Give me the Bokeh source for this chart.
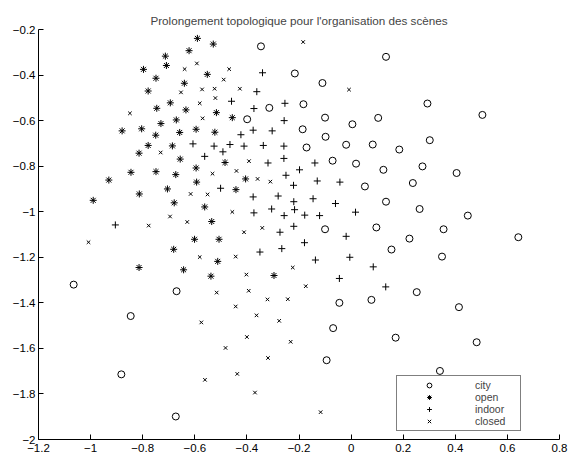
from bokeh.plotting import figure
from bokeh.models import FixedTicker, Legend, LegendItem, Range1d
from bokeh.embed import file_html
from bokeh.resources import INLINE

title_text = "Prolongement topologique pour l'organisation des scènes"
x_ticks = [-1.2, -1.0, -0.8, -0.6, -0.4, -0.2, 0.0, 0.2, 0.4, 0.6, 0.8]
x_tick_labels = ["−1.2", "−1", "−0.8", "−0.6", "−0.4", "−0.2", "0", "0.2", "0.4", "0.6", "0.8"]
y_ticks = [-2.0, -1.8, -1.6, -1.4, -1.2, -1.0, -0.8, -0.6, -0.4, -0.2]
y_tick_labels = ["−2", "−1.8", "−1.6", "−1.4", "−1.2", "−1", "−0.8", "−0.6", "−0.4", "−0.2"]

categories = ["city", "open", "indoor", "closed"]

city_x = [-0.346, -0.216, -0.110, -0.183, -0.314, -0.399, -0.100, 0.005, 0.104, -0.186,
          -0.098, -0.171, -0.019, 0.083, -0.071, 0.019, 0.053, -0.100, 0.097,
          0.134, 0.293, 0.504, 0.302, 0.185, 0.124, 0.274, 0.405, 0.237, 0.134,
          0.263, 0.448, 0.355,
          -1.065, -0.670, -0.846, -0.882, -0.673,
          -0.045, 0.078, -0.069, -0.094,
          0.224, 0.642, 0.155, 0.349, 0.252, 0.414, 0.171, 0.482, 0.341]
city_y = [-0.274, -0.393, -0.435, -0.528, -0.544, -0.594, -0.587, -0.616, -0.588, -0.638,
          -0.671, -0.718, -0.706, -0.705, -0.776, -0.789, -0.889, -1.077, -1.069,
          -0.320, -0.525, -0.575, -0.686, -0.727, -0.816, -0.801, -0.830, -0.874, -0.956,
          -0.988, -1.017, -1.077,
          -1.320, -1.349, -1.458, -1.714, -1.899,
          -1.400, -1.387, -1.511, -1.652,
          -1.118, -1.112, -1.166, -1.197, -1.353, -1.419, -1.553, -1.573, -1.699]

open_x = [-0.590, -0.622, -0.713, -0.709, -0.797, -0.749, -0.779, -0.640, -0.694, -0.746,
          -0.634, -0.671, -0.730, -0.595, -0.804, -0.879, -0.750, -0.658, -0.779, -0.686,
          -0.814, -0.656, -0.595, -0.845, -0.749, -0.673, -0.593, -0.930, -0.813, -0.705,
          -0.679, -0.990,
          -0.529, -0.552, -0.517, -0.456, -0.523, -0.484, -0.405, -0.442, -0.562, -0.535,
          -0.681, -0.814, -0.643,
          -0.601, -0.507, -0.512, -0.538, -0.296]
open_y = [-0.239, -0.293, -0.317, -0.358, -0.375, -0.414, -0.470, -0.436, -0.522, -0.546,
          -0.553, -0.597, -0.613, -0.638, -0.636, -0.645, -0.664, -0.652, -0.709, -0.711,
          -0.743, -0.769, -0.808, -0.827, -0.824, -0.837, -0.870, -0.861, -0.922, -0.900,
          -0.961, -0.950,
          -0.264, -0.397, -0.565, -0.587, -0.651, -0.784, -0.856, -0.903, -0.979, -1.043,
          -1.165, -1.245, -1.255,
          -1.121, -1.121, -1.218, -1.283, -1.280]

indoor_x = [-0.607, -0.905,
            -0.340, -0.362, -0.459, -0.373, -0.254, -0.257, -0.376, -0.303, -0.423, -0.526,
            -0.465, -0.492, -0.411, -0.337, -0.258, -0.562, -0.319, -0.258, -0.198, -0.139,
            -0.250, -0.221, -0.130, -0.043, -0.501, -0.376, -0.280, -0.220, -0.146, -0.060,
            -0.373, -0.305, -0.217, -0.257, -0.178, -0.121, 0.017, -0.220, -0.273,
            -0.019, -0.179, -0.350, -0.266, -0.137, -0.005, 0.085, -0.045,
            0.133]
indoor_y = [-0.702, -1.058,
            -0.390, -0.473, -0.515, -0.547, -0.524, -0.600, -0.642, -0.645, -0.662, -0.712,
            -0.705, -0.737, -0.712, -0.709, -0.712, -0.757, -0.786, -0.766, -0.816, -0.786,
            -0.840, -0.884, -0.865, -0.870, -0.897, -0.935, -0.931, -0.956, -0.943, -0.964,
            -1.005, -0.988, -0.991, -1.017, -1.015, -1.017, -1.002, -1.064, -1.090,
            -1.108, -1.136, -1.177, -1.162, -1.212, -1.200, -1.242, -1.293,
            -1.330]

closed_x = [-0.592, -0.639, -0.653, -0.849, -0.731, -0.616, -0.695, -0.629, -0.777,
            -0.581, -0.468, -0.489, -0.572, -0.524, -0.427, -0.521, -0.570, -0.184, -0.008,
            -0.532, -0.440, -0.392, -0.359, -0.310, -0.551, -0.456, -0.411, -0.341,
            -1.008,
            -0.581, -0.443, -0.402, -0.224, -0.516, -0.393, -0.174, -0.443, -0.321, -0.243,
            -0.363, -0.575, -0.276, -0.400, -0.232, -0.482, -0.319, -0.437, -0.561, -0.369,
            -0.117]
closed_y = [-0.349, -0.374, -0.476, -0.568, -0.740, -0.922, -1.021, -1.045, -1.061,
            -0.524, -0.374, -0.420, -0.463, -0.460, -0.460, -0.501, -0.590, -0.255, -0.464,
            -0.833, -0.821, -0.778, -0.856, -0.868, -0.924, -1.001, -1.090, -1.071,
            -1.134,
            -1.199, -1.197, -1.276, -1.245, -1.355, -1.347, -1.327, -1.416, -1.385, -1.384,
            -1.455, -1.486, -1.479, -1.550, -1.571, -1.598, -1.642, -1.712, -1.738, -1.794,
            -1.880]

FONT = "Liberation Sans"

p = figure(width=568, height=454, output_backend="svg", toolbar_location=None,
           x_range=Range1d(-1.2, 0.8), y_range=Range1d(-2.0, -0.2),
           min_border_left=38, min_border_right=9, min_border_top=29, min_border_bottom=15)
p.title.text = title_text
p.title.align = "center"
p.title.text_font = FONT
p.title.text_font_size = "11.7px"
p.title.text_font_style = "normal"
p.title.standoff = 6

p.outline_line_color = None
p.grid.visible = False
p.background_fill_color = "white"
p.border_fill_color = "white"

for ax, ticks, labels in ((p.xaxis[0], x_ticks, x_tick_labels), (p.yaxis[0], y_ticks, y_tick_labels)):
    ax.ticker = FixedTicker(ticks=ticks)
    ax.major_label_overrides = {t: s for t, s in zip(ticks, labels)}
    ax.major_tick_in = 5
    ax.major_tick_out = 0
    ax.minor_tick_line_color = None
    ax.axis_line_color = "black"
    ax.axis_line_width = 1
    ax.major_tick_line_color = "black"
    ax.major_label_text_font = FONT
    ax.major_label_text_font_size = "11.5px"
    ax.major_label_text_color = "black"
p.xaxis[0].major_label_standoff = 4
p.yaxis[0].major_label_standoff = 3

common = dict(line_color="black", line_width=1)
r_city = p.scatter(city_x, city_y, marker="circle", size=7, fill_color=None, **common)
r_open = p.scatter(open_x, open_y, marker="asterisk", size=7, **common)
r_indoor = p.scatter(indoor_x, indoor_y, marker="cross", size=7, **common)
r_closed = p.scatter(closed_x, closed_y, marker="x", size=5, **common)

legend = Legend(items=[LegendItem(label=c, renderers=[r]) for c, r in
                       zip(categories, [r_city, r_open, r_indoor, r_closed])],
                location=(358, 8), orientation="vertical",
                padding=3, spacing=0, margin=0,
                glyph_width=58, glyph_height=12, label_height=12,
                label_standoff=17, label_width=42,
                label_text_font=FONT, label_text_font_size="10.5px",
                border_line_color="black", border_line_width=1,
                background_fill_color="white", background_fill_alpha=1)
p.add_layout(legend, "center")

open("out.html", "w").write(file_html(p, INLINE))
